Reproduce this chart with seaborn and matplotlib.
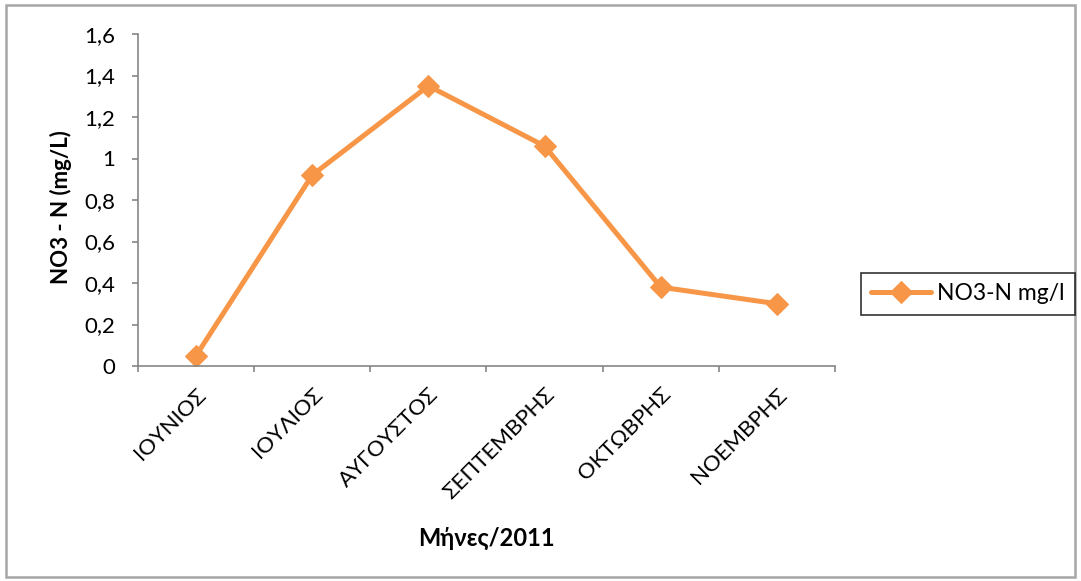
import matplotlib
matplotlib.use("Agg")
import matplotlib.pyplot as plt
import matplotlib.ticker as mticker
import seaborn as sns
import pandas as pd
import numpy as np

months = ["ΙΟΥΝΙΟΣ", "ΙΟΥΛΙΟΣ", "ΑΥΓΟΥΣΤΟΣ", "ΣΕΠΤΕΜΒΡΗΣ", "ΟΚΤΩΒΡΗΣ", "ΝΟΕΜΒΡΗΣ"]
no3_n = [0.05, 0.92, 1.35, 1.06, 0.38, 0.30]
series_name = "NO3-N mg/l"
y_ticks = [0, 0.2, 0.4, 0.6, 0.8, 1.0, 1.2, 1.4, 1.6]

sns.set_theme(style="white")
plt.rcParams["font.family"] = ["Lato", "DejaVu Sans"]
plt.rcParams["text.color"] = "black"
plt.rcParams["axes.labelcolor"] = "black"
plt.rcParams["xtick.color"] = "black"
plt.rcParams["ytick.color"] = "black"

df = pd.DataFrame({"pos": np.arange(len(months)), "value": no3_n, "series": series_name})

fig = plt.figure(figsize=(10.81, 5.81), dpi=100)
fig.patch.set_facecolor("white")
ax = fig.add_axes([138 / 1081, 1 - 366 / 581, (835 - 138) / 1081, (366 - 34) / 581])

orange = "#F79646"
sns.lineplot(data=df, x="pos", y="value", hue="series", palette=[orange],
             marker="D", markersize=11, linewidth=3.6, markeredgecolor=orange,
             ax=ax)

ax.set_xlim(-0.5, len(months) - 0.5)
ax.set_ylim(0, 1.6)
ax.set_yticks(y_ticks)
ax.yaxis.set_major_formatter(mticker.FuncFormatter(
    lambda v, p: ("%g" % round(v, 1)).replace(".", ",")))
ax.set_xticks(np.arange(len(months)))
ax.set_xticklabels(months, rotation=45, ha="right", rotation_mode="anchor")
ax.set_xticks(np.arange(len(months) + 1) - 0.5, minor=True)
ax.tick_params(axis="x", which="major", length=0, pad=13, labelsize=16)
ax.tick_params(axis="x", which="minor", length=4.5, width=1.2, color="#868686",
               direction="out", bottom=True)
ax.tick_params(axis="y", length=4.5, width=1.2, color="#868686", direction="out",
               left=True, labelsize=16, pad=12)

for s in ["top", "right"]:
    ax.spines[s].set_visible(False)
for s in ["left", "bottom"]:
    ax.spines[s].set_color("#868686")
    ax.spines[s].set_linewidth(1.2)

ax.set_xlabel("Μήνες/2011", fontsize=17, fontweight="bold", va="top")
ax.xaxis.set_label_coords(0.5, (366 - 527) / 332)
ax.set_ylabel("NO3 - N (mg/L)", fontsize=16, fontweight="bold")
ax.yaxis.set_label_coords((72 - 138) / 697, 0.48)
ax.grid(False)

handles, labels = ax.get_legend_handles_labels()
ax.get_legend().remove()
leg = fig.legend(handles, labels, loc="center", bbox_to_anchor=(968 / 1081, 1 - 294 / 581),
                 frameon=True, fancybox=False, fontsize=16.5, handlelength=2.6,
                 borderpad=0.45, handletextpad=0.3, borderaxespad=0)
leg.get_frame().set_edgecolor("black")
leg.get_frame().set_linewidth(1.2)

border = plt.Rectangle((6 / 1081, 4 / 581), 1069 / 1081, 572 / 581, transform=fig.transFigure,
                       fill=False, edgecolor="#A6A6A6", linewidth=1.8)
fig.add_artist(border)

fig.savefig("out.png", dpi=100)
